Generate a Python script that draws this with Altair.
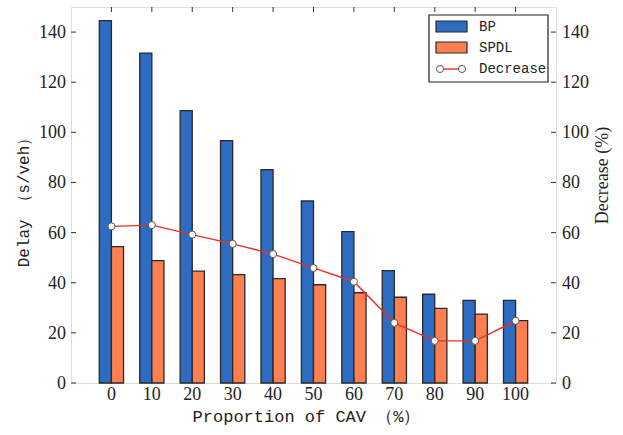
import altair as alt
import pandas as pd

# ---- data ----
cav = [0, 10, 20, 30, 40, 50, 60, 70, 80, 90, 100]
bp = [144.6, 131.6, 108.7, 96.7, 85.1, 72.6, 60.4, 44.8, 35.4, 33.0, 33.0]
spdl = [54.4, 48.8, 44.6, 43.2, 41.6, 39.2, 36.0, 34.2, 29.8, 27.5, 24.9]
decrease = [62.5, 63.0, 59.2, 55.5, 51.4, 45.9, 40.4, 24.0, 16.8, 16.8, 24.8]
series_names = ["BP", "SPDL", "Decrease"]
y_ticks = [0, 20, 40, 60, 80, 100, 120, 140]

C_BP = "#2d6cc0"
C_SPDL = "#ff7f50"
C_DEC = "#f42a2a"
EDGE = "#2a2a2a"
SERIF = "Liberation Serif"
MONO = "Liberation Mono"
TXT = "#222"

W, H = 485, 376

df = pd.DataFrame({"cav": cav, "bp": bp, "spdl": spdl, "dec": decrease})
df_ticks = pd.DataFrame({"v": y_ticks})
one = pd.DataFrame({"k": [0]})

xscale = alt.Scale(domain=[-10, 110], nice=False, zero=False)
yscale_l = alt.Scale(domain=[0, 150], nice=False)
yscale_r = alt.Scale(domain=[0, 150], nice=False)

x_axis = alt.Axis(values=cav, grid=False, ticks=False, tickSize=0, domain=False, labels=False,
                  title="Proportion of CAV （%）", titleFont=MONO, titleFontSize=17,
                  titleFontWeight="normal", titleColor=TXT, titleX=235, titleY=33,
                  titleAlign="center", titleBaseline="middle")
left_axis = alt.Axis(values=y_ticks, orient="left", grid=False, ticks=False, tickSize=0, domain=False,
                     labels=False,
                     title="Delay （s/veh）", titleFont=MONO, titleFontSize=16,
                     titleFontWeight="normal", titleColor=TXT, titleAngle=270,
                     titleX=-48, titleY=191, titleAlign="center", titleBaseline="middle")
right_axis = alt.Axis(values=y_ticks, orient="right", grid=False, ticks=False, tickSize=0, domain=False,
                      labels=False,
                      title="Decrease (%)", titleFont=SERIF, titleFontSize=18,
                      titleFontWeight="normal", titleColor=TXT, titleAngle=270,
                      titleX=46, titleY=168, titleAlign="center", titleBaseline="middle")

base = alt.Chart(df)

bp_bars = base.mark_rect(fill=C_BP, stroke=EDGE, strokeWidth=1.3).transform_calculate(
    x0="datum.cav - 3", zero="0"
).encode(
    x=alt.X("x0:Q", scale=xscale, axis=x_axis),
    x2="cav:Q",
    y=alt.Y("bp:Q", scale=yscale_l, axis=left_axis),
    y2="zero:Q",
)
spdl_bars = base.mark_rect(fill=C_SPDL, stroke=EDGE, strokeWidth=1.3).transform_calculate(
    x1="datum.cav + 3", zero="0"
).encode(
    x=alt.X("cav:Q", scale=xscale, axis=x_axis),
    x2="x1:Q",
    y=alt.Y("spdl:Q", scale=yscale_l, axis=left_axis),
    y2="zero:Q",
)

tick_color = "#333"
left_ticks = alt.Chart(df_ticks).mark_rule(color=tick_color, strokeWidth=1).encode(
    y=alt.Y("v:Q", scale=yscale_l, axis=left_axis), x=alt.value(0), x2=alt.value(5)
)
top_ticks = base.mark_rule(color=tick_color, strokeWidth=1).encode(
    x=alt.X("cav:Q", scale=xscale, axis=x_axis), y=alt.value(0), y2=alt.value(5)
)
bottom_ticks = base.mark_rule(color=tick_color, strokeWidth=1).encode(
    x=alt.X("cav:Q", scale=xscale, axis=x_axis), y=alt.value(H - 5), y2=alt.value(H)
)
# tick labels drawn as text through the same scales
left_labels = alt.Chart(df_ticks).mark_text(
    align="right", baseline="alphabetic", dy=6, font=SERIF, fontSize=18, color=TXT
).encode(y=alt.Y("v:Q", scale=yscale_l, axis=left_axis), x=alt.value(-5), text="v:Q")
bottom_labels = base.mark_text(
    align="center", baseline="alphabetic", font=SERIF, fontSize=18, color=TXT
).encode(x=alt.X("cav:Q", scale=xscale, axis=x_axis), y=alt.value(H + 17), text="cav:Q")

left_group = alt.layer(bp_bars, spdl_bars, left_ticks, top_ticks, bottom_ticks, left_labels, bottom_labels)

dec_line = base.mark_line(color=C_DEC, strokeWidth=1.4).encode(
    x=alt.X("cav:Q", scale=xscale, axis=x_axis),
    y=alt.Y("dec:Q", scale=yscale_r, axis=right_axis),
)
dec_pts = base.mark_point(shape="circle", filled=True, fill="white", stroke="#555",
                          strokeWidth=1, size=50, opacity=1).encode(
    x=alt.X("cav:Q", scale=xscale, axis=x_axis),
    y=alt.Y("dec:Q", scale=yscale_r, axis=right_axis),
)
right_ticks = alt.Chart(df_ticks).mark_rule(color=tick_color, strokeWidth=1).encode(
    y=alt.Y("v:Q", scale=yscale_r, axis=right_axis), x=alt.value(W - 5), x2=alt.value(W)
)
right_labels = alt.Chart(df_ticks).mark_text(
    align="left", baseline="alphabetic", dy=6, font=SERIF, fontSize=18, color=TXT
).encode(y=alt.Y("v:Q", scale=yscale_r, axis=right_axis), x=alt.value(W + 6), text="v:Q")
right_group = alt.layer(dec_line, dec_pts, right_ticks, right_labels)

# ---- legend (drawn by hand to mimic matplotlib's) ----
leg = alt.Chart(one)
leg_box = leg.mark_rect(fill="white", stroke="#222", strokeWidth=1.2).encode(
    x=alt.value(358), x2=alt.value(477), y=alt.value(8), y2=alt.value(75)
)
leg_bp = leg.mark_rect(fill=C_BP, stroke=EDGE, strokeWidth=1.2).encode(
    x=alt.value(365), x2=alt.value(396), y=alt.value(14), y2=alt.value(25)
)
leg_spdl = leg.mark_rect(fill=C_SPDL, stroke=EDGE, strokeWidth=1.2).encode(
    x=alt.value(365), x2=alt.value(396), y=alt.value(35), y2=alt.value(46)
)
leg_line = leg.mark_rule(color=C_DEC, strokeWidth=1.4).encode(
    x=alt.value(369), x2=alt.value(391), y=alt.value(62)
)
leg_c1 = leg.mark_point(shape="circle", filled=True, fill="white", stroke="#555",
                        strokeWidth=1, size=50, opacity=1).encode(x=alt.value(369), y=alt.value(62))
leg_c2 = leg.mark_point(shape="circle", filled=True, fill="white", stroke="#555",
                        strokeWidth=1, size=50, opacity=1).encode(x=alt.value(391), y=alt.value(62))
leg_texts = []
for name, yy in zip(series_names, [19.5, 40.5, 62]):
    leg_texts.append(
        leg.mark_text(align="left", baseline="middle", font=MONO, fontSize=14, color=TXT).encode(
            x=alt.value(408), y=alt.value(yy), text=alt.value(name)
        )
    )
legend = alt.layer(leg_box, leg_bp, leg_spdl, leg_line, leg_c1, leg_c2, *leg_texts)

chart = alt.layer(left_group, right_group, legend).resolve_scale(y="independent").properties(
    width=W, height=H,
    autosize=alt.AutoSizeParams(type="none"),
    padding={"left": 71, "top": 7, "right": 67, "bottom": 52},
).configure_view(stroke="#333", strokeWidth=1.5).configure(background="white")

chart.save("out.html", embed_options={"renderer": "svg", "actions": False})
